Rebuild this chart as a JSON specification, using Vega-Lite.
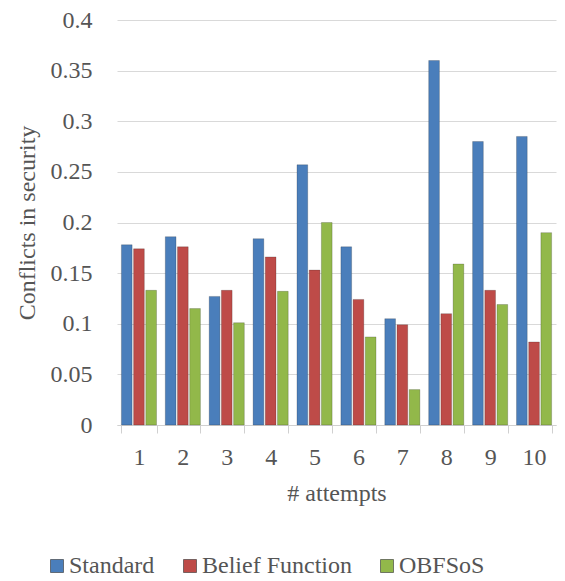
{
  "$schema": "https://vega.github.io/schema/vega-lite/v6.json",
  "autosize": "none",
  "width": 439,
  "height": 405,
  "padding": {"left": 117, "top": 20, "right": 9, "bottom": 156},
  "background": "white",
  "data": {"values": [
    {"attempt": "1", "series": "Standard", "value": 0.178},
    {"attempt": "1", "series": "Belief Function", "value": 0.174},
    {"attempt": "1", "series": "OBFSoS", "value": 0.133},
    {"attempt": "2", "series": "Standard", "value": 0.186},
    {"attempt": "2", "series": "Belief Function", "value": 0.176},
    {"attempt": "2", "series": "OBFSoS", "value": 0.115},
    {"attempt": "3", "series": "Standard", "value": 0.127},
    {"attempt": "3", "series": "Belief Function", "value": 0.133},
    {"attempt": "3", "series": "OBFSoS", "value": 0.101},
    {"attempt": "4", "series": "Standard", "value": 0.184},
    {"attempt": "4", "series": "Belief Function", "value": 0.166},
    {"attempt": "4", "series": "OBFSoS", "value": 0.132},
    {"attempt": "5", "series": "Standard", "value": 0.257},
    {"attempt": "5", "series": "Belief Function", "value": 0.153},
    {"attempt": "5", "series": "OBFSoS", "value": 0.2},
    {"attempt": "6", "series": "Standard", "value": 0.176},
    {"attempt": "6", "series": "Belief Function", "value": 0.124},
    {"attempt": "6", "series": "OBFSoS", "value": 0.087},
    {"attempt": "7", "series": "Standard", "value": 0.105},
    {"attempt": "7", "series": "Belief Function", "value": 0.099},
    {"attempt": "7", "series": "OBFSoS", "value": 0.035},
    {"attempt": "8", "series": "Standard", "value": 0.36},
    {"attempt": "8", "series": "Belief Function", "value": 0.11},
    {"attempt": "8", "series": "OBFSoS", "value": 0.159},
    {"attempt": "9", "series": "Standard", "value": 0.28},
    {"attempt": "9", "series": "Belief Function", "value": 0.133},
    {"attempt": "9", "series": "OBFSoS", "value": 0.119},
    {"attempt": "10", "series": "Standard", "value": 0.285},
    {"attempt": "10", "series": "Belief Function", "value": 0.082},
    {"attempt": "10", "series": "OBFSoS", "value": 0.19}
  ]},
  "mark": {"type": "bar", "stroke": "#1a1a1a", "strokeOpacity": 0.35, "strokeWidth": 0.6},
  "encoding": {
    "x": {
      "field": "attempt", "type": "ordinal", "sort": null,
      "scale": {"paddingInner": 0.2, "paddingOuter": 0.1},
      "axis": {
        "title": "# attempts", "titleFont": "Liberation Serif", "titleFontSize": 24, "titleFontWeight": "normal", "titleColor": "#555555", "titlePadding": 12,
        "labelFont": "Liberation Serif", "labelFontSize": 24, "labelColor": "#555555", "labelAngle": 0, "labelPadding": 12,
        "tickBand": "extent", "tickSize": 8, "tickColor": "#d0d0d0", "domainColor": "#d0d0d0", "grid": false
      }
    },
    "xOffset": {"field": "series", "type": "nominal", "sort": ["Standard", "Belief Function", "OBFSoS"], "scale": {"paddingInner": 0.12}},
    "y": {
      "field": "value", "type": "quantitative",
      "scale": {"domain": [0, 0.4]},
      "axis": {
        "title": "Conflicts in security", "titleFont": "Liberation Serif", "titleFontSize": 24, "titleFontWeight": "normal", "titleColor": "#555555", "titlePadding": 11,
        "labelFont": "Liberation Serif", "labelFontSize": 24, "labelColor": "#555555", "labelPadding": 25,
        "values": [0, 0.05, 0.1, 0.15, 0.2, 0.25, 0.3, 0.35, 0.4], "format": "~g",
        "ticks": false, "domain": false, "gridColor": "#d9d9d9", "gridWidth": 1.2
      }
    },
    "color": {
      "field": "series", "type": "nominal", "sort": ["Standard", "Belief Function", "OBFSoS"],
      "scale": {"domain": ["Standard", "Belief Function", "OBFSoS"], "range": ["#4a7ebb", "#be4b48", "#92b84a"]},
      "legend": {
        "title": null, "orient": "none", "legendX": -72, "legendY": 534, "direction": "horizontal",
        "symbolType": "square", "symbolSize": 169, "symbolStrokeWidth": 0.6, "symbolStrokeColor": "#333333",
        "labelFont": "Liberation Serif", "labelFontSize": 24, "labelColor": "#555555", "columnPadding": 23, "labelOffset": 0
      }
    }
  },
  "config": {"view": {"stroke": null}}
}
